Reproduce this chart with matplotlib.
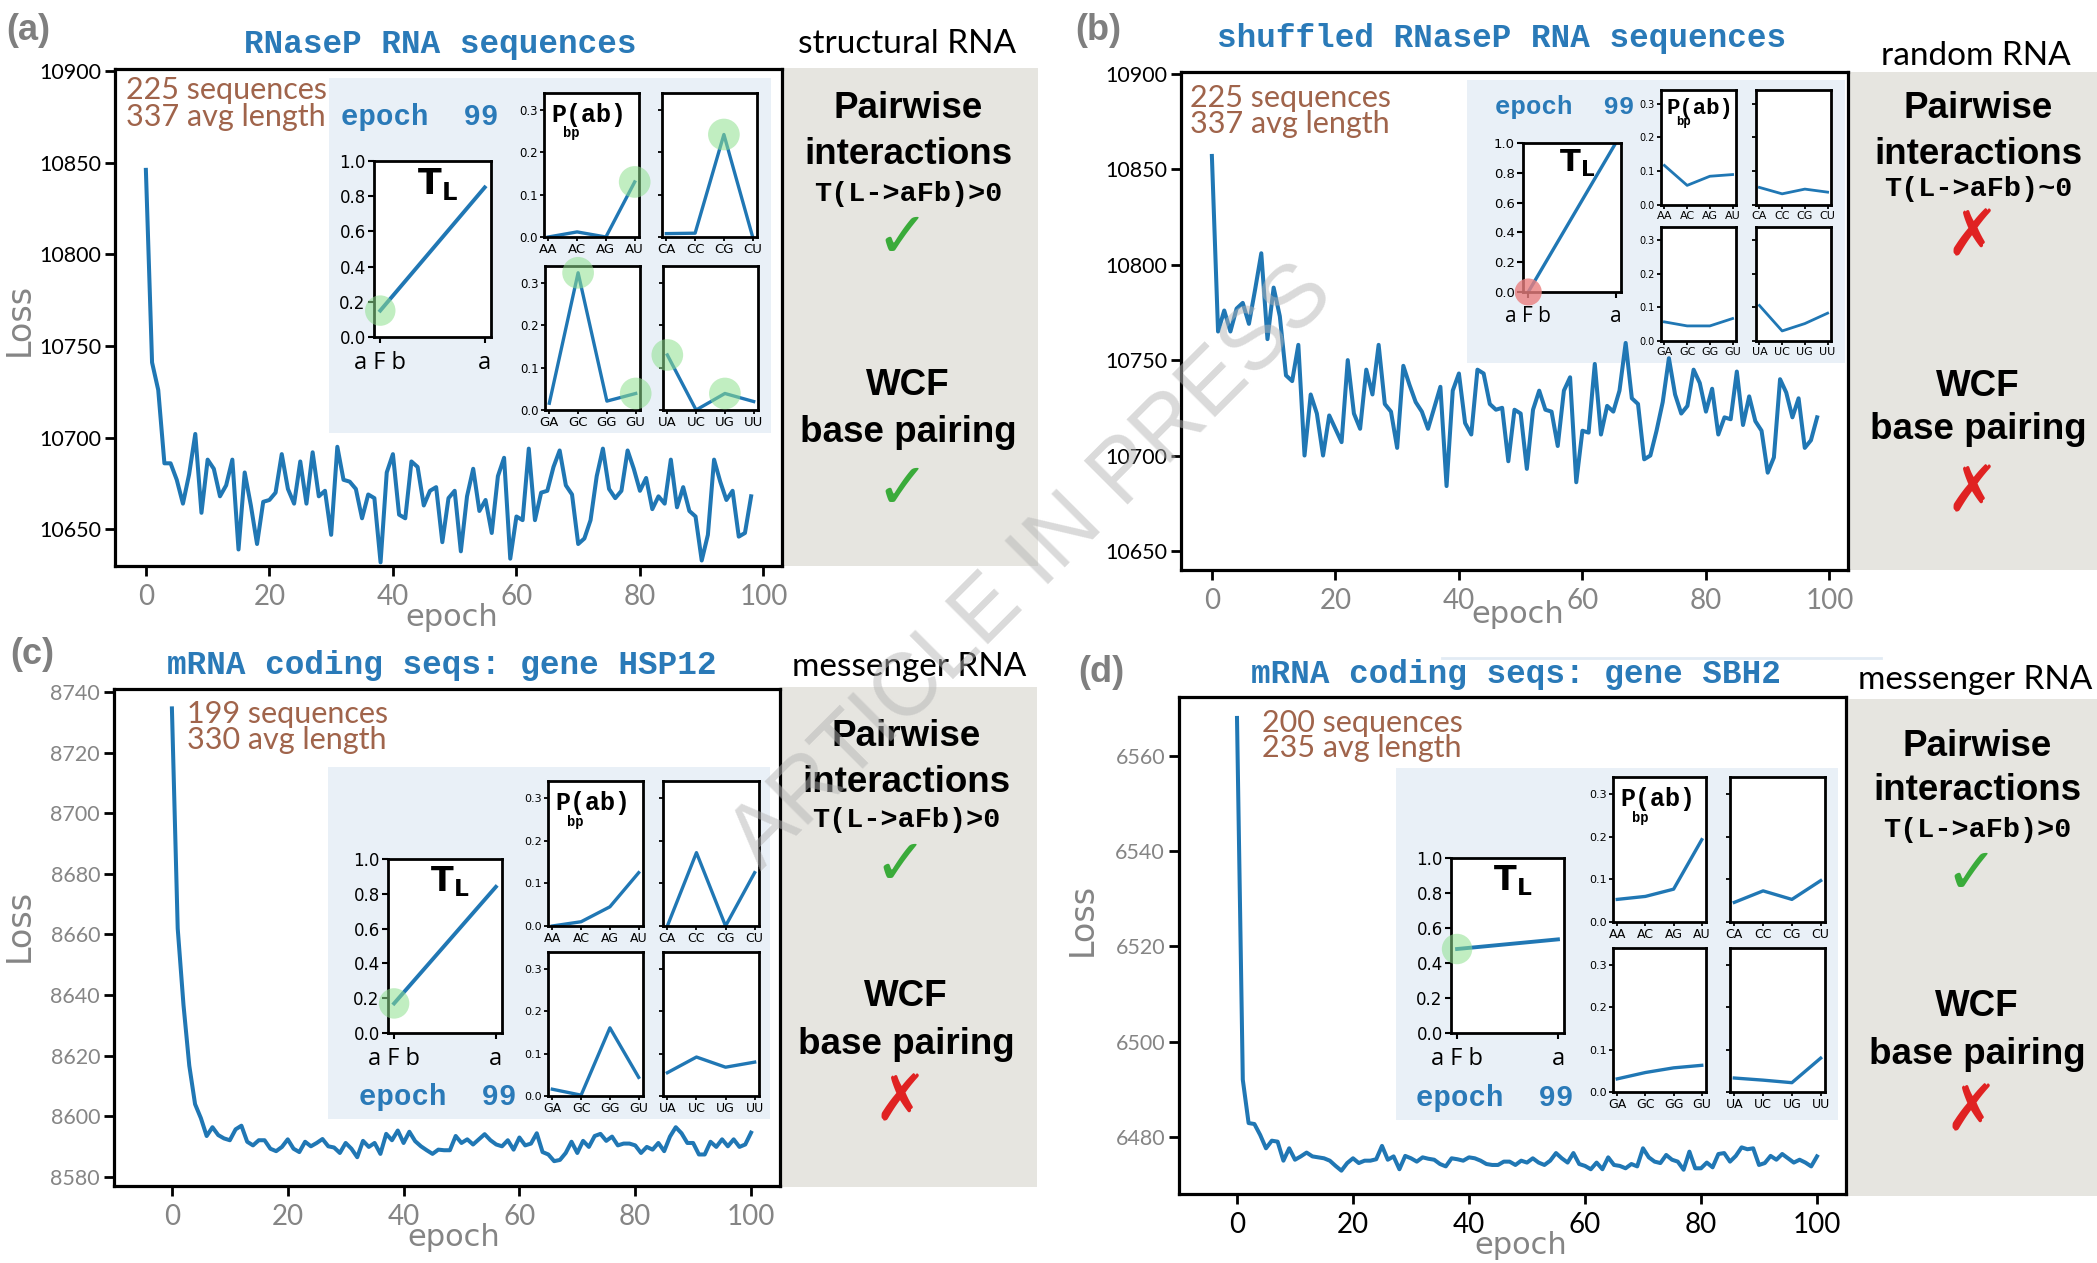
import numpy as np
import matplotlib
matplotlib.use('Agg')
import matplotlib.pyplot as plt
from matplotlib.patches import Rectangle
from matplotlib.lines import Line2D

W, H = 2097, 1263

# ---------------- data ----------------
loss_a = [10846, 10741, 10726, 10686, 10686, 10677, 10664, 10680, 10702, 10659,
          10688, 10683, 10668, 10674, 10688, 10639, 10681, 10663, 10642, 10665,
          10666, 10670, 10691, 10672, 10664, 10687, 10664, 10692, 10668, 10671,
          10647, 10695, 10677, 10676, 10672, 10656, 10669, 10667, 10632, 10681,
          10691, 10658, 10656, 10687, 10684, 10663, 10671, 10673, 10643, 10667,
          10671, 10638, 10668, 10683, 10660, 10666, 10648, 10679, 10689, 10634,
          10657, 10655, 10694, 10655, 10670, 10671, 10684, 10693, 10674, 10669,
          10642, 10645, 10655, 10679, 10694, 10672, 10667, 10671, 10693, 10683,
          10671, 10678, 10661, 10668, 10664, 10688, 10662, 10673, 10660, 10657,
          10633, 10647, 10688, 10676, 10666, 10671, 10646, 10648, 10668]

loss_b = [10857, 10765, 10776, 10765, 10777, 10780, 10769, 10787, 10806, 10761,
          10788, 10773, 10742, 10739, 10758, 10700, 10732, 10722, 10700, 10721,
          10714, 10707, 10750, 10722, 10714, 10745, 10732, 10758, 10727, 10723,
          10704, 10747, 10737, 10728, 10723, 10714, 10725, 10736, 10684, 10734,
          10743, 10717, 10711, 10745, 10743, 10727, 10724, 10725, 10697, 10724,
          10722, 10693, 10724, 10734, 10724, 10723, 10705, 10734, 10741, 10686,
          10713, 10712, 10748, 10711, 10726, 10723, 10734, 10759, 10730, 10727,
          10698, 10700, 10713, 10728, 10751, 10732, 10722, 10726, 10745, 10738,
          10723, 10735, 10711, 10720, 10719, 10744, 10716, 10731, 10718, 10713,
          10691, 10699, 10740, 10733, 10720, 10730, 10704, 10708, 10720]

loss_c = [8734.6, 8662.0, 8636.7, 8616.7, 8604.0, 8599.4, 8593.5, 8596.4, 8593.8, 8592.7,
          8592.1, 8595.7, 8596.9, 8591.6, 8590.4, 8592.1, 8592.1, 8589.3, 8588.5, 8589.9,
          8592.4, 8589.3, 8588.2, 8591.6, 8590.1, 8591.2, 8592.5, 8590.1, 8589.7, 8587.9,
          8591.2, 8589.3, 8586.5, 8591.9, 8589.9, 8591.2, 8587.6, 8594.2, 8592.1, 8595.3,
          8591.2, 8594.9, 8591.8, 8590.1, 8588.8, 8587.6, 8589.0, 8588.8, 8588.8, 8593.5,
          8591.2, 8592.4, 8590.7, 8592.4, 8594.1, 8592.1, 8590.7, 8590.1, 8592.1, 8589.0,
          8593.0, 8590.4, 8591.0, 8594.4, 8588.2, 8587.4, 8585.2, 8585.6, 8587.9, 8591.6,
          8587.9, 8591.9, 8589.9, 8593.5, 8594.2, 8591.9, 8593.3, 8590.4, 8591.0, 8591.0,
          8590.4, 8587.9, 8589.9, 8589.0, 8591.2, 8588.5, 8593.3, 8596.4, 8594.4, 8591.2,
          8591.2, 8587.4, 8587.4, 8591.6, 8589.9, 8592.4, 8590.1, 8592.4, 8589.9, 8590.7,
          8594.6]

loss_d = [6568.0, 6492.0, 6482.9, 6482.7, 6480.4, 6477.6, 6479.2, 6479.0, 6475.0, 6477.6,
          6475.2, 6475.9, 6476.7, 6475.9, 6475.7, 6475.5, 6475.0, 6473.9, 6472.9, 6474.5,
          6475.5, 6474.5, 6475.0, 6475.0, 6475.3, 6478.1, 6475.2, 6475.9, 6473.2, 6476.0,
          6475.5, 6474.8, 6475.7, 6475.4, 6475.2, 6474.3, 6473.8, 6475.5, 6475.3, 6475.0,
          6475.7, 6475.5, 6475.0, 6474.3, 6474.1, 6474.1, 6474.8, 6474.8, 6474.1, 6475.0,
          6474.6, 6475.5, 6474.6, 6474.1, 6475.0, 6476.6, 6475.5, 6474.6, 6476.6, 6474.3,
          6473.9, 6473.2, 6474.6, 6473.2, 6475.7, 6474.1, 6473.9, 6473.4, 6474.3, 6473.8,
          6477.6, 6475.7, 6474.8, 6474.5, 6476.2, 6475.2, 6474.8, 6473.1, 6476.9, 6473.4,
          6473.4, 6474.6, 6473.6, 6476.4, 6476.6, 6474.8, 6476.0, 6477.8, 6477.4, 6477.6,
          6474.1, 6474.5, 6476.0, 6475.2, 6476.4, 6475.5, 6474.6, 6475.2, 6474.6, 6473.8,
          6475.9]

pairs = [['AA', 'AC', 'AG', 'AU'], ['CA', 'CC', 'CG', 'CU'],
         ['GA', 'GC', 'GG', 'GU'], ['UA', 'UC', 'UG', 'UU']]

# T_L line: value at "aFb" and at "a"
tl_a = [0.15, 0.85]
tl_b = [0.0, 1.0]
tl_c = [0.17, 0.84]
tl_d = [0.48, 0.535]

pbp_a = [[0.0, 0.012, 0.0, 0.13], [0.008, 0.009, 0.242, 0.0],
         [0.016, 0.324, 0.021, 0.039], [0.13, 0.0, 0.039, 0.02]]
pbp_b = [[0.117, 0.058, 0.085, 0.09], [0.052, 0.033, 0.047, 0.038],
         [0.057, 0.045, 0.045, 0.067], [0.106, 0.03, 0.052, 0.083]]
pbp_c = [[0.0, 0.01, 0.045, 0.125], [0.0, 0.172, 0.0, 0.125],
         [0.016, 0.002, 0.161, 0.044], [0.055, 0.092, 0.068, 0.08]]
pbp_d = [[0.053, 0.06, 0.077, 0.193], [0.046, 0.073, 0.053, 0.097],
         [0.031, 0.046, 0.057, 0.063], [0.033, 0.028, 0.022, 0.08]]

# highlighted pairs (green circles)
hl_a = [[3], [2], [1, 3], [0, 2]]
hl_none = [[], [], [], []]

titles = ['RNaseP RNA sequences', 'shuffled RNaseP RNA sequences',
          'mRNA coding seqs: gene HSP12', 'mRNA coding seqs: gene SBH2']
kinds = ['structural RNA', 'random RNA', 'messenger RNA', 'messenger RNA']
nseq = ['225 sequences', '225 sequences', '199 sequences', '200 sequences']
avglen = ['337 avg length', '337 avg length', '330 avg length', '235 avg length']
tcode = ['T(L->aFb)>0', 'T(L->aFb)~0', 'T(L->aFb)>0', 'T(L->aFb)>0']
pair_ok = [True, False, True, True]
wcf_ok = [True, False, False, False]

# ---------------- style ----------------
BLUE = '#2077b4'
TITLE_BLUE = '#2a7ab8'
BROWN = '#a0644b'
GREY_TXT = '#858585'
GREY_BOX = '#e6e5e0'
INSET_BG = '#e9f0f7'
NARROW = ['Lato', 'DejaVu Sans']
MONO = ['Liberation Mono', 'DejaVu Sans Mono']
SANS = ['Liberation Sans', 'DejaVu Sans']

fig = plt.figure(figsize=(W / 100, H / 100), dpi=100)
fig.patch.set_facecolor('white')


def pbox(b):
    x0, y0, x1, y1 = b
    return [x0 / W, 1 - y1 / H, (x1 - x0) / W, (y1 - y0) / H]


def pxy(x, y):
    return (x / W, 1 - y / H)


layout = [
    dict(main=(115, 69, 782, 566), grey=(782, 68, 1038, 566), inset=(329, 78, 771, 433),
         tl=(374, 161, 491, 337),
         pbp=[(544, 93, 639, 237), (662, 93, 757, 237), (545, 266, 640, 410), (663, 266, 758, 410)],
         ep=(420, 117), info=(126, 90, 117), title=(440, 44), kind=(907, 44),
         gx=908, gy=[108, 154, 194, 239, 385, 432, 490], lab=(28, 30),
         ylim=(10630, 10901), xlim=(-5, 103), yt=np.arange(10650, 10901, 50),
         loss=(19, 319), epoch=(452, 617), ycol='black', xcol=GREY_TXT,
         tlfs=12, tlx=17, tfs=25, pfs=18, pt=8.5, lw_in=2.4),
    dict(main=(1181, 72, 1848, 570), grey=(1848, 72, 2097, 570), inset=(1467, 80, 1845, 363),
         tl=(1523, 143, 1621, 292),
         pbp=[(1661, 90, 1736, 205), (1756, 90, 1831, 205), (1661, 227, 1736, 341), (1756, 227, 1831, 341)],
         ep=(1565, 107), info=(1190, 98, 124), title=(1502, 39), kind=(1976, 56),
         gx=1978, gy=[108, 154, 189, 237, 386, 430, 493], lab=(1098, 30),
         ylim=(10640, 10901), xlim=(-5, 103), yt=np.arange(10650, 10901, 50),
         loss=None, epoch=(1518, 615), ycol='black', xcol=GREY_TXT,
         tlfs=9.5, tlx=15, tfs=22, pfs=16, pt=7, lw_in=2.0),
    dict(main=(114, 689, 780, 1186), grey=(780, 687, 1037, 1187), inset=(328, 767, 770, 1119),
         tl=(388, 859, 502, 1033),
         pbp=[(548, 781, 643, 926), (663, 781, 759, 926), (548, 952, 643, 1096), (663, 952, 759, 1096)],
         ep=(438, 1097), info=(187, 714, 740), title=(442, 665), kind=(909, 667),
         gx=906, gy=[737, 783, 820, 866, 997, 1044, 1102], lab=(32, 655),
         ylim=(8577, 8741), xlim=(-10, 105), yt=np.arange(8580, 8741, 20),
         loss=(19, 925), epoch=(454, 1237), ycol=GREY_TXT, xcol=GREY_TXT,
         tlfs=12, tlx=17, tfs=24, pfs=18, pt=8, lw_in=2.4),
    dict(main=(1179, 697, 1846, 1194), grey=(1846, 699, 2097, 1196), inset=(1396, 768, 1838, 1120),
         tl=(1451, 858, 1564, 1033),
         pbp=[(1613, 777, 1706, 922), (1730, 777, 1825, 922), (1613, 948, 1706, 1092), (1730, 948, 1825, 1092)],
         ep=(1495, 1098), info=(1262, 723, 748), title=(1516, 675), kind=(1975, 680),
         gx=1977, gy=[747, 791, 830, 875, 1007, 1054, 1112], lab=(1101, 672),
         ylim=(6468, 6572.4), xlim=(-10, 105), yt=np.arange(6480, 6561, 20),
         loss=(1082, 919), epoch=(1521, 1245), ycol=GREY_TXT, xcol='black',
         tlfs=12, tlx=17, tfs=24, pfs=18, pt=8, lw_in=2.4),
]

losses = [loss_a, loss_b, loss_c, loss_d]
tls = [tl_a, tl_b, tl_c, tl_d]
pbps = [pbp_a, pbp_b, pbp_c, pbp_d]
hls = [hl_a, hl_none, hl_none, hl_none]
labels = ['(a)', '(b)', '(c)', '(d)']

GREEN_C = '#8fe08f'
RED_C = '#ea7f7f'

for i, L in enumerate(layout):
    # grey side box
    gx0, gy0, gx1, gy1 = L['grey']
    fig.add_artist(Rectangle(pxy(gx0, gy1), (gx1 - gx0) / W, (gy1 - gy0) / H,
                             transform=fig.transFigure, facecolor=GREY_BOX,
                             edgecolor='none', zorder=0))

    # main loss axes
    ax = fig.add_axes(pbox(L['main']))
    ix0, iy0, ix1, iy1 = L['inset']
    ax.add_patch(Rectangle(pxy(ix0, iy1), (ix1 - ix0) / W, (iy1 - iy0) / H,
                           transform=fig.transFigure, facecolor=INSET_BG,
                           edgecolor='none', zorder=0.5))
    y = losses[i]
    ax.plot(np.arange(len(y)), y, color=BLUE, lw=2.9, zorder=2)
    ax.set_xlim(*L['xlim'])
    ax.set_ylim(*L['ylim'])
    ax.set_xticks(np.arange(0, 101, 20))
    ax.set_yticks(L['yt'])
    for s in ax.spines.values():
        s.set_linewidth(2.3)
    ax.tick_params(axis='both', length=7, width=2)
    ax.tick_params(axis='x', labelsize=20, labelcolor=L['xcol'], pad=6)
    ax.tick_params(axis='y', labelsize=15.5, labelcolor=L['ycol'], pad=3)
    for t in ax.get_xticklabels() + ax.get_yticklabels():
        t.set_family(NARROW)
    ax.set_xlabel('epoch', fontsize=22, color=GREY_TXT, va='center')
    x0, y0, x1, y1 = L['main']
    ex, ey = L['epoch']
    ax.xaxis.set_label_coords((ex - x0) / (x1 - x0), (y1 - ey) / (y1 - y0))
    if L['loss'] is not None:
        ax.set_ylabel('Loss', fontsize=24, color=GREY_TXT, va='center')
        lx, ly = L['loss']
        ax.yaxis.set_label_coords((lx - x0) / (x1 - x0), (y1 - ly) / (y1 - y0))

    # T_L inset
    a = fig.add_axes(pbox(L['tl']))
    tv = tls[i]
    a.plot([0, 1], tv, color=BLUE, lw=L['lw_in'] + 0.4)
    a.set_xlim(-0.06, 1.06)
    a.set_ylim(0, 1)
    a.set_xticks([0, 1])
    a.set_xticklabels(['a F b', 'a'], fontsize=L['tlx'], family='Open Sans')
    a.set_yticks(np.arange(0, 1.01, 0.2))
    a.set_yticklabels(['%.1f' % v for v in np.arange(0, 1.01, 0.2)], fontsize=L['tlfs'])
    a.tick_params(length=4, width=1.5, pad=2)
    a.tick_params(axis='x', pad=6)
    for s in a.spines.values():
        s.set_linewidth(2)
    a.text(0.37, 0.97, r'$\mathbf{T}_\mathbf{L}$', transform=a.transAxes,
           fontsize=L['tfs'], va='top', ha='left')
    cc = RED_C if i == 1 else GREEN_C
    a.scatter([0], [tv[0]], s=480 if i != 1 else 380, color=cc,
              alpha=0.55 if i != 1 else 0.8, edgecolor='none', zorder=3, clip_on=False)

    # P_bp insets
    for k in range(4):
        b = fig.add_axes(pbox(L['pbp'][k]))
        vals = pbps[i][k]
        b.plot(np.arange(4), vals, color=BLUE, lw=L['lw_in'])
        b.set_ylim(0, 0.34)
        b.set_xticks(np.arange(4))
        b.set_xticklabels(pairs[k], fontsize=L['pt'] + 1)
        b.set_yticks([0, 0.1, 0.2, 0.3])
        if k in (0, 2):
            b.set_yticklabels(['0.0', '0.1', '0.2', '0.3'], fontsize=L['pt'])
        else:
            b.set_yticklabels([])
        b.tick_params(length=3, width=1.3, pad=1.5)
        for s in b.spines.values():
            s.set_linewidth(2)
        hx = hls[i][k]
        if hx:
            b.scatter(hx, [vals[j] for j in hx], s=520, color=GREEN_C, alpha=0.55,
                      edgecolor='none', zorder=3, clip_on=False)
        if k == 0:
            b.text(0.08, 0.93, 'P(ab)', transform=b.transAxes, family=MONO,
                   weight='bold', fontsize=L['pfs'], va='top', ha='left')
            b.text(0.2, 0.72, 'bp', transform=b.transAxes, family=MONO,
                   weight='bold', fontsize=L['pfs'] * 0.55, va='center', ha='left')

    # texts
    fig.text(*pxy(*L['ep']), 'epoch  99', color=TITLE_BLUE, family=MONO, weight='bold',
             fontsize=21 if i != 1 else 18.5, ha='center', va='center')
    fig.text(*pxy(L['info'][0], L['info'][1]), nseq[i], color=BROWN, family=NARROW,
             fontsize=22, ha='left', va='center')
    fig.text(*pxy(L['info'][0], L['info'][2]), avglen[i], color=BROWN, family=NARROW,
             fontsize=22, ha='left', va='center')
    fig.text(*pxy(*L['title']), titles[i], color=TITLE_BLUE, family=MONO, weight='bold',
             fontsize=23.5, ha='center', va='center')
    fig.text(*pxy(*L['kind']), kinds[i], color='black', family=NARROW,
             fontsize=24, ha='center', va='center')
    fig.text(*pxy(*L['lab']), labels[i], color='#7f7f7f', family=SANS, weight='bold',
             fontsize=26, ha='center', va='center')

    gx = L['gx']
    gy = L['gy']
    fig.text(*pxy(gx, gy[0]), 'Pairwise', family=SANS, weight='bold', fontsize=26.5,
             ha='center', va='center')
    fig.text(*pxy(gx, gy[1]), 'interactions', family=SANS, weight='bold', fontsize=26.5,
             ha='center', va='center')
    fig.text(*pxy(gx, gy[2]), tcode[i], family=MONO, weight='bold', fontsize=20.5,
             ha='center', va='center')
    fig.text(*pxy(gx - 6, gy[3]), '\u2713' if pair_ok[i] else '\u2717',
             color='#3aab3a' if pair_ok[i] else '#e02222', fontsize=46,
             family='DejaVu Sans', ha='center', va='center')
    fig.text(*pxy(gx, gy[4]), 'WCF', family=SANS, weight='bold', fontsize=26.5,
             ha='center', va='center')
    fig.text(*pxy(gx, gy[5]), 'base pairing', family=SANS, weight='bold', fontsize=26.5,
             ha='center', va='center')
    fig.text(*pxy(gx - 6, gy[6]), '\u2713' if wcf_ok[i] else '\u2717',
             color='#3aab3a' if wcf_ok[i] else '#e02222', fontsize=46,
             family='DejaVu Sans', ha='center', va='center')

# faint bar above panel (d) title
fig.add_artist(Line2D([1442 / W, 1881 / W], [1 - 658 / H, 1 - 658 / H],
                      transform=fig.transFigure, color='#e2ebf4', lw=2))

# watermark
fig.text(*pxy(1033, 568), 'ARTICLE IN PRESS', rotation=45, fontsize=64, family=SANS,
         color='#b5b5b5', alpha=0.5, ha='center', va='center', zorder=10)

fig.savefig('out.png', dpi=100)
